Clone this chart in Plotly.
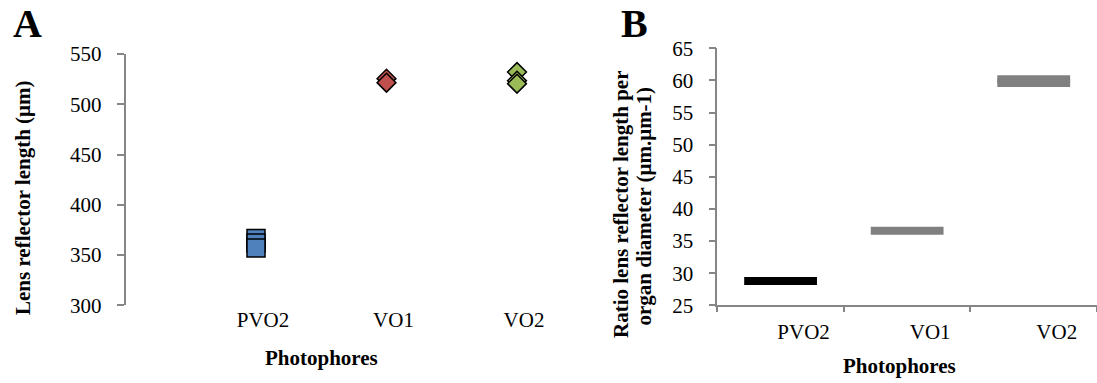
import plotly.graph_objects as go

W, H = 1097, 383

# ---- data ----
categories = ["PVO2", "VO1", "VO2"]
lens_pvo2 = [366.5, 362.0, 357.0]
lens_vo1 = [525.5, 521.5]
lens_vo2 = [532.0, 523.5, 520.5]

ratio_pvo2 = [28.8]
ratio_vo1 = [36.6]
ratio_vo2 = [59.6, 60.2]

yA_ticks = [300, 350, 400, 450, 500, 550]
yB_ticks = [25, 30, 35, 40, 45, 50, 55, 60, 65]

FONT = "Times New Roman, Liberation Serif, serif"
AXC = "#868686"


def px_x(p):
    return p / W


def px_y(p):
    return 1 - p / H


fig = go.Figure()

# Panel A markers
fig.add_trace(go.Scatter(x=[categories[0]] * len(lens_pvo2), y=lens_pvo2, mode="markers",
                         marker=dict(symbol="square", size=18, color="#4F81BD",
                                     line=dict(color="black", width=1.5)),
                         xaxis="x", yaxis="y", showlegend=False))
fig.add_trace(go.Scatter(x=[categories[1]] * len(lens_vo1), y=lens_vo1, mode="markers",
                         marker=dict(symbol="diamond", size=14.5, color="#C0504D",
                                     line=dict(color="black", width=1.5)),
                         xaxis="x", yaxis="y", showlegend=False))
fig.add_trace(go.Scatter(x=[categories[2]] * len(lens_vo2), y=lens_vo2, mode="markers",
                         marker=dict(symbol="diamond", size=14.5, color="#9BBB59",
                                     line=dict(color="black", width=1.5)),
                         xaxis="x", yaxis="y", showlegend=False))

# Panel B dashes
for cat, vals, col in [(categories[0], ratio_pvo2, "black"),
                       (categories[1], ratio_vo1, "#808080"),
                       (categories[2], ratio_vo2, "#808080")]:
    fig.add_trace(go.Scatter(x=[cat] * len(vals), y=vals, mode="markers",
                             marker=dict(symbol="line-ew", size=52,
                                         line=dict(color=col, width=8)),
                             xaxis="x2", yaxis="y2", showlegend=False))

tickfont = dict(family=FONT, size=21, color="black")

fig.update_layout(
    width=W, height=H,
    margin=dict(l=0, r=0, t=0, b=0, pad=0, autoexpand=False),
    showlegend=False,
    paper_bgcolor="white", plot_bgcolor="white",
    font=dict(family=FONT, size=21, color="black"),
    xaxis=dict(domain=[px_x(125.5), px_x(582.25)], type="category",
               categoryorder="array", categoryarray=categories,
               range=[-1, 2.5], showline=False, showgrid=False, zeroline=False,
               ticks="", tickfont=tickfont, ticklabelshift=7, automargin=False,
               anchor="y"),
    yaxis=dict(domain=[px_y(305.3), px_y(54)], range=[300, 550],
               tickvals=yA_ticks, showline=True, linecolor=AXC, linewidth=1.5,
               ticks="outside", ticklen=7, tickcolor=AXC, tickwidth=1.5,
               ticklabelstandoff=11,
               showgrid=False, zeroline=False, tickfont=tickfont, automargin=False,
               anchor="x"),
    xaxis2=dict(domain=[px_x(717.3), 1.0], type="category",
                categoryorder="array", categoryarray=categories,
                range=[-0.5, 2.5], showline=True, linecolor=AXC, linewidth=1.5,
                ticks="outside", ticklen=5, tickcolor=AXC, tickwidth=1.5,
                tickson="boundaries", showgrid=False, zeroline=False,
                tickfont=tickfont, ticklabelshift=23, ticklabelstandoff=7,
                automargin=False, anchor="y2"),
    yaxis2=dict(domain=[px_y(305.3), px_y(48.3)], range=[25, 65],
                tickvals=yB_ticks, showline=True, linecolor=AXC, linewidth=1.5,
                ticks="outside", ticklen=7, tickcolor=AXC, tickwidth=1.5,
                ticklabelstandoff=11,
                showgrid=False, zeroline=False, tickfont=tickfont, automargin=False,
                anchor="x2"),
)

bold = dict(family=FONT, size=21, color="black")
ann = [
    dict(text="<b>A</b>", x=px_x(27), y=px_y(24), font=dict(family=FONT, size=40, color="black")),
    dict(text="<b>B</b>", x=px_x(634), y=px_y(24), font=dict(family=FONT, size=40, color="black")),
    dict(text="<b>Lens reflector length (μm)</b>", x=px_x(23), y=px_y(198), textangle=-90, font=bold),
    dict(text="<b>Photophores</b>", x=px_x(321), y=px_y(358), font=bold),
    dict(text="<b>Ratio lens reflector length per</b>", x=px_x(621), y=px_y(204), textangle=-90, font=bold),
    dict(text="<b>organ diameter (μm.μm-1)</b>", x=px_x(643.5), y=px_y(206), textangle=-90, font=bold),
    dict(text="<b>Photophores</b>", x=px_x(899), y=px_y(366), font=bold),
]
for a in ann:
    a.update(xref="paper", yref="paper", xanchor="center", yanchor="middle",
             showarrow=False)
fig.update_layout(annotations=ann)

fig.write_html("out.html")
